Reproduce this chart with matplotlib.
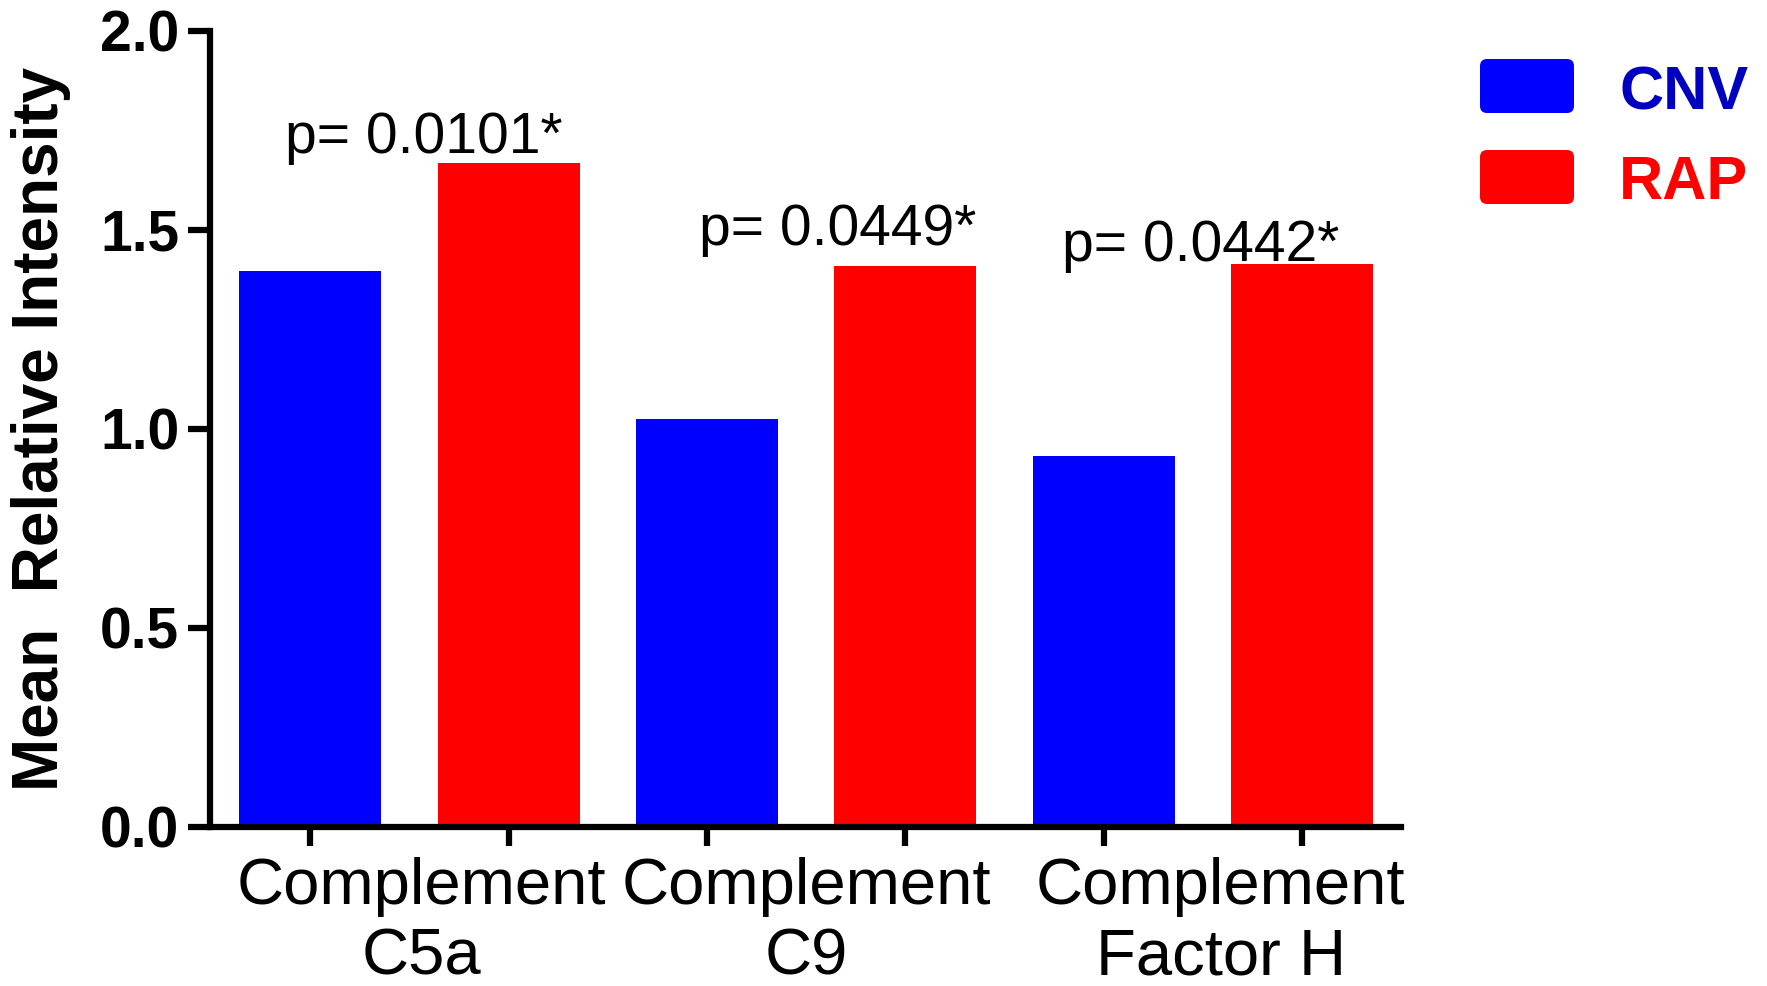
import matplotlib
matplotlib.use("Agg")
import matplotlib.pyplot as plt
from matplotlib.patches import FancyBboxPatch
import numpy as np

# ---- data ----
categories = ["Complement\nC5a", "Complement\nC9", "Complement\nFactor H"]
groups = ["CNV", "RAP"]
cnv_values = [1.398, 1.026, 0.932]
rap_values = [1.668, 1.409, 1.415]
p_labels = ["p= 0.0101*", "p= 0.0449*", "p= 0.0442*"]
y_ticks = [0.0, 0.5, 1.0, 1.5, 2.0]

# ---- style ----
BLUE = "#0000FF"
RED = "#FF0000"
LEGEND_BLUE = "#0000C0"
FONT = ["Liberation Sans", "DejaVu Sans"]
plt.rcParams["font.family"] = FONT

fig = plt.figure(figsize=(17.67, 9.86), dpi=100)
ax = fig.add_axes([0.1188, 0.1613, 0.6741, 0.8073])

# bars are laid out one after the other: CNV, RAP for each category
n = len(categories)
cnv_x = np.arange(n) * 2
rap_x = cnv_x + 1
bar_w = 0.716
ax.bar(cnv_x, cnv_values, width=bar_w, color=BLUE, edgecolor="none", zorder=2)
ax.bar(rap_x, rap_values, width=bar_w, color=RED, edgecolor="none", zorder=2)

ax.set_xlim(-0.506, 2 * n - 0.5)
ax.set_ylim(0, 2.0)

# axes styling
for side in ("top", "right"):
    ax.spines[side].set_visible(False)
for side in ("left", "bottom"):
    ax.spines[side].set_linewidth(4.5)
    ax.spines[side].set_color("black")
ax.spines["bottom"].set_zorder(3)

ax.set_yticks(y_ticks)
ax.set_yticklabels([f"{v:.1f}" for v in y_ticks], fontsize=41, fontweight="bold")
ax.tick_params(axis="y", length=16, width=4.5, pad=6)

all_x = np.sort(np.concatenate([cnv_x, rap_x]))
ax.set_xticks(all_x)
ax.set_xticklabels([])
ax.tick_params(axis="x", length=14, width=4.5)

ax.set_ylabel("Mean  Relative Intensity", fontsize=46, fontweight="bold")
ax.yaxis.set_label_coords(-0.117, 0.5)

# category labels under each CNV/RAP pair
label_nudge = [0.06, 0.0, 0.09]
for i, cat in enumerate(categories):
    xc = (cnv_x[i] + rap_x[i]) / 2 + label_nudge[i]
    ax.text(xc, -0.038, cat, transform=ax.get_xaxis_transform(),
            ha="center", va="top", fontsize=47, linespacing=1.22)

# p-value annotations above each pair
p_pos = [(0.57, 1.693), (2.66, 1.463), (4.49, 1.423)]
for (px, py), txt in zip(p_pos, p_labels):
    ax.text(px, py, txt, ha="center", va="baseline", fontsize=41, zorder=4)

# legend drawn in figure pixels
W, H = 1767, 986
def fig_rect(x0, y0, x1, y1, color):
    patch = FancyBboxPatch((x0 / W, 1 - y1 / H), (x1 - x0) / W, (y1 - y0) / H,
                           boxstyle="round,pad=0,rounding_size=0.004",
                           transform=fig.transFigure, facecolor=color,
                           edgecolor="none", mutation_aspect=W / H)
    fig.patches.append(patch)

fig_rect(1480, 59, 1574, 113, BLUE)
fig_rect(1480, 150, 1574, 204, RED)
fig.text(1619 / W, 1 - 87 / H, groups[0], color=LEGEND_BLUE, fontsize=44,
         fontweight="bold", ha="left", va="center_baseline")
fig.text(1619 / W, 1 - 177 / H, groups[1], color=RED, fontsize=44,
         fontweight="bold", ha="left", va="center_baseline")

fig.savefig("out.png", dpi=100)
